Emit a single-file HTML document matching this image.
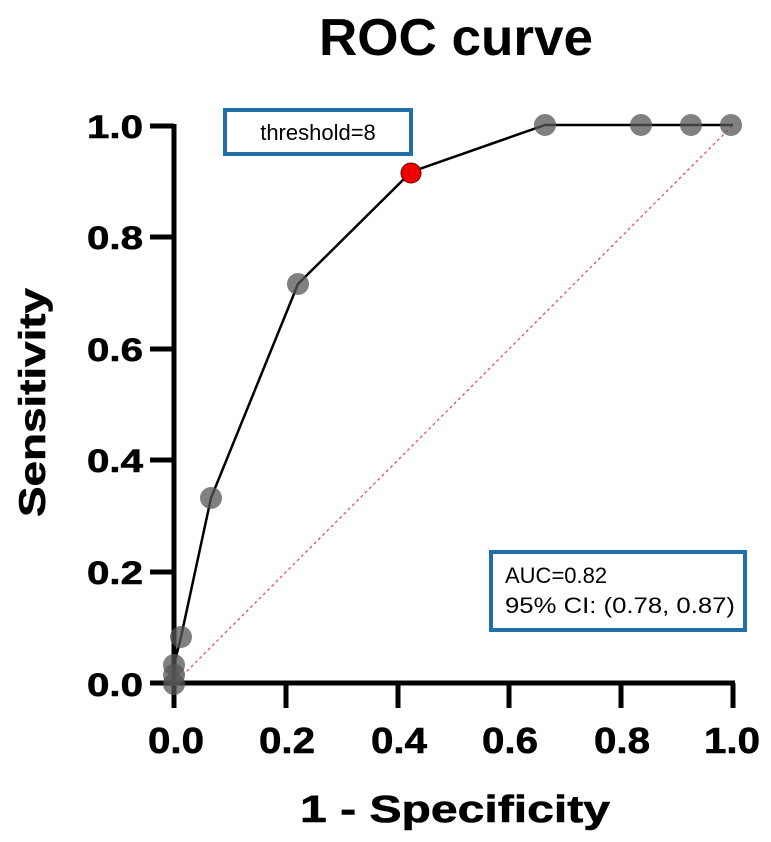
<!DOCTYPE html>
<html><head><meta charset="utf-8"><style>body{margin:0;background:#fff}svg{display:block}</style></head><body>
<svg width="771" height="842" xmlns="http://www.w3.org/2000/svg" font-family="Liberation Sans, sans-serif">
<text x="319" y="55" font-size="52" font-weight="bold" textLength="274" lengthAdjust="spacingAndGlyphs">ROC curve</text>
<line x1="174" y1="684" x2="733" y2="125" stroke="#e05060" stroke-width="1.3" stroke-dasharray="3,3"/>
<g stroke="#000" stroke-width="5" fill="none">
<line x1="174" y1="124" x2="174" y2="708"/>
<line x1="150" y1="683" x2="735" y2="683"/>
<line x1="150" y1="126" x2="174" y2="126"/>
<line x1="150" y1="237" x2="174" y2="237"/>
<line x1="150" y1="349" x2="174" y2="349"/>
<line x1="150" y1="460" x2="174" y2="460"/>
<line x1="150" y1="572" x2="174" y2="572"/>
<line x1="286" y1="683" x2="286" y2="708"/>
<line x1="398" y1="683" x2="398" y2="708"/>
<line x1="509" y1="683" x2="509" y2="708"/>
<line x1="621" y1="683" x2="621" y2="708"/>
<line x1="733" y1="683" x2="733" y2="708"/>
</g>
<g font-size="32" font-weight="bold" stroke="#000" stroke-width="0.6">
<text x="87" y="138" textLength="56" lengthAdjust="spacingAndGlyphs">1.0</text>
<text x="87" y="249" textLength="56" lengthAdjust="spacingAndGlyphs">0.8</text>
<text x="87" y="361" textLength="56" lengthAdjust="spacingAndGlyphs">0.6</text>
<text x="87" y="472" textLength="56" lengthAdjust="spacingAndGlyphs">0.4</text>
<text x="87" y="584" textLength="56" lengthAdjust="spacingAndGlyphs">0.2</text>
<text x="87" y="696" textLength="56" lengthAdjust="spacingAndGlyphs">0.0</text>
</g>
<g font-size="36" font-weight="bold" stroke="#000" stroke-width="0.6">
<text x="148" y="753" textLength="56" lengthAdjust="spacingAndGlyphs">0.0</text>
<text x="259" y="753" textLength="56" lengthAdjust="spacingAndGlyphs">0.2</text>
<text x="371" y="753" textLength="56" lengthAdjust="spacingAndGlyphs">0.4</text>
<text x="482" y="753" textLength="56" lengthAdjust="spacingAndGlyphs">0.6</text>
<text x="594" y="753" textLength="56" lengthAdjust="spacingAndGlyphs">0.8</text>
<text x="704" y="753" textLength="56" lengthAdjust="spacingAndGlyphs">1.0</text>
</g>
<text x="300" y="822" font-size="38" font-weight="bold" textLength="310" lengthAdjust="spacingAndGlyphs" stroke="#000" stroke-width="0.6">1 - Specificity</text>
<text transform="translate(45,517) rotate(-90)" font-size="37" font-weight="bold" textLength="229" lengthAdjust="spacingAndGlyphs" stroke="#000" stroke-width="0.6">Sensitivity</text>
<polyline points="174,684 174,675 174,665 181,637 211,498 298,284 411,172 545,125 641,125 691,125 733,125" fill="none" stroke="#000" stroke-width="2.5"/>
<g fill="#555" fill-opacity="0.75">
<circle cx="174" cy="684" r="11"/><circle cx="174" cy="675" r="11"/><circle cx="174" cy="665" r="11"/>
<circle cx="181" cy="637" r="11"/><circle cx="211" cy="498" r="11"/><circle cx="298" cy="284" r="11"/>
<circle cx="545" cy="125" r="11"/><circle cx="641" cy="125" r="11"/><circle cx="691" cy="125" r="11"/><circle cx="731" cy="125" r="11"/>
</g>
<circle cx="411" cy="173" r="10" fill="#ee0000" stroke="#600" stroke-width="1"/>
<rect x="225" y="110" width="186" height="44" fill="#fff" stroke="#1f6fa8" stroke-width="4"/>
<text x="318" y="140" font-size="22" text-anchor="middle">threshold=8</text>
<rect x="491" y="552" width="254" height="78" fill="#fff" stroke="#1f6fa8" stroke-width="4"/>
<text x="505" y="583" font-size="22">AUC=0.82</text>
<text x="505" y="613" font-size="22" textLength="230" lengthAdjust="spacingAndGlyphs">95% CI: (0.78, 0.87)</text>
</svg>
</body></html>
